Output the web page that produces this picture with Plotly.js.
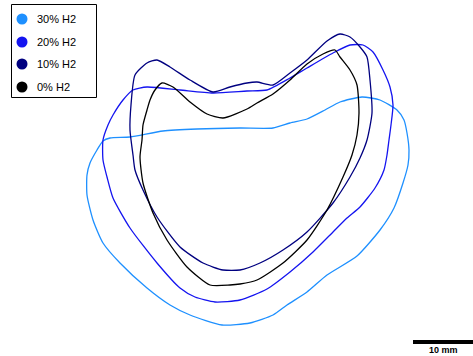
<!DOCTYPE html>
<html>
<head>
<meta charset="utf-8">
<script src="https://cdn.plot.ly/plotly-3.0.1.min.js"></script>
<style>html,body{margin:0;padding:0;background:#fff;}#chart{width:473px;height:356px;}</style>
</head>
<body>
<div id="chart"></div>
<script>
// Flame front contours, image units (6 units = 1 mm)
const seriesNames = ["30% H2", "20% H2", "10% H2", "0% H2"];
const seriesColors = ["#1E90FF", "#1414F0", "#000080", "#000000"];

const h30x = [97,103,110,130,163,197,240,273,290,307,325,340,362,380,397,404,407,409,408,403,394,380,357,327,307,287,273,250,222,190,170,147,120,103,93,87,87,90,97];
const h30y = [150,141,138,137,131,129,128,128,123,119,110,102,97,100,110,120,133,150,165,183,208,230,256,275,292,305,315,323,325,315,305,288,263,243,220,195,175,163,150];

const h20x = [103,108,113,123,133,147,180,213,247,267,290,307,333,350,363,373,383,390,393,391,389,387,384,375,360,347,333,313,290,267,240,215,195,180,157,130,113,107,103,103];
const h20y = [140,125,115,100,90,87,90,93,91,90,78,68,53,45,45,52,70,87,105,125,140,155,170,188,207,218,232,252,272,289,300,302,297,288,263,228,198,177,160,140];

const h10x = [133,130,131,135,147,157,170,190,213,230,247,257,273,290,307,327,340,350,360,367,370,372,367,360,350,333,307,283,260,240,223,203,180,157,143,135,133];
const h10y = [155,130,105,75,63,60,67,80,92,87,83,82,85,73,60,41,34,37,47,57,80,113,140,158,177,203,232,250,263,270,270,263,247,217,190,170,155];

const h0x = [140,142,143,147,150,155,162,173,190,207,223,247,257,273,290,307,323,335,340,350,357,359,357,352,343,327,307,283,257,240,230,210,187,167,153,143,140];
const h0y = [157,140,125,110,100,90,83,87,102,114,118,109,103,94,80,64,54,50,57,70,85,113,135,155,177,210,240,263,280,284,285,285,267,240,213,183,157];

const scaleBarX = [413, 473];
const scaleBarY = [342, 342];
const scaleLabel = "10 mm";

const xs = [h30x, h20x, h10x, h0x];
const ys = [h30y, h20y, h10y, h0y];

const traces = xs.map((x, i) => ({
  x: x, y: ys[i], type: "scatter", mode: "lines",
  line: {color: seriesColors[i], width: 1.3, shape: "spline", smoothing: 0.6},
  showlegend: false, hoverinfo: "skip"
}));
traces.push({x: scaleBarX, y: scaleBarY, type: "scatter", mode: "lines",
  line: {color: "#000", width: 4}, showlegend: false, hoverinfo: "skip"});

// manual legend
const legY = [19, 42, 64, 87];
traces.push({x: seriesNames.map(() => 22), y: legY, type: "scatter", mode: "markers",
  marker: {color: seriesColors, size: 11}, showlegend: false, hoverinfo: "skip"});

const annotations = seriesNames.map((n, i) => ({
  x: 35, y: legY[i], xref: "x", yref: "y", text: n, showarrow: false,
  xanchor: "left", yanchor: "middle", font: {family: "Liberation Sans, Arial", size: 11, color: "#000"}
}));
annotations.push({x: 443, y: 350, xref: "x", yref: "y", text: "<b>" + scaleLabel + "</b>", showarrow: false,
  xanchor: "center", yanchor: "middle", font: {family: "Liberation Sans, Arial", size: 9, color: "#000"}});

const layout = {
  width: 473, height: 356,
  margin: {l: 0, r: 0, t: 0, b: 0},
  paper_bgcolor: "#fff", plot_bgcolor: "#fff",
  xaxis: {range: [0, 473], visible: false, fixedrange: true},
  yaxis: {range: [356, 0], visible: false, fixedrange: true},
  shapes: [{type: "rect", xref: "x", yref: "y", x0: 11.5, x1: 96.5, y0: 4.5, y1: 97.5,
    line: {color: "#000", width: 1}, fillcolor: "rgba(0,0,0,0)"}],
  annotations: annotations,
  showlegend: false
};
Plotly.newPlot("chart", traces, layout, {staticPlot: true, displayModeBar: false});
</script>
</body>
</html>
